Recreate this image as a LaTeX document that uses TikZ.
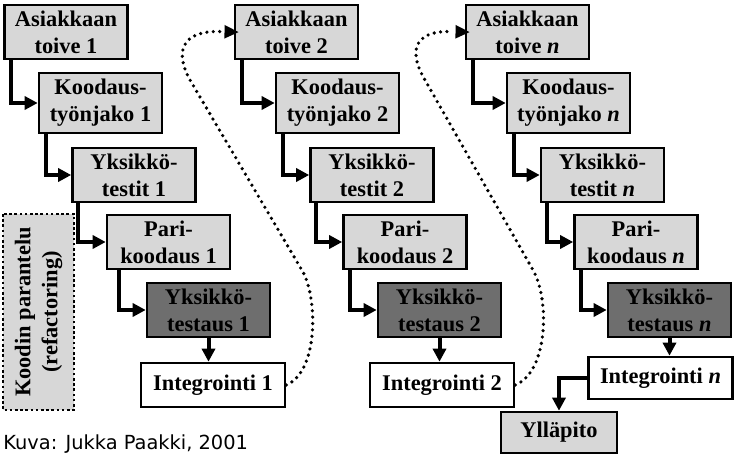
\documentclass[tikz,border=0pt]{standalone}
\usepackage{fontspec}
\setmainfont{Liberation Serif}
\newfontfamily\creditfont{DejaVu Sans}
\usepackage{xcolor}
\usetikzlibrary{arrows.meta,calc,decorations.markings}
\definecolor{stepgray}{RGB}{215,215,215}
\definecolor{testgray}{RGB}{110,110,110}

\begin{document}
\begin{tikzpicture}[x=0.5pt,y=-0.5pt,
  stepbox/.style={draw,line width=1.3pt,fill=stepgray,rectangle,inner sep=0pt,
    minimum width=61.5pt,minimum height=27pt,align=center,
    font=\fontsize{11.2}{13.5}\selectfont\bfseries},
  tallbox/.style={stepbox,minimum height=30pt},
  testbox/.style={stepbox,fill=testgray},
  intbox/.style={stepbox,fill=white,minimum width=72pt,minimum height=22pt},
  arrow/.style={-{Triangle[length=6.5pt,width=6.5pt]},line width=2pt},
  loopback/.style={line width=1.8pt,dash pattern=on 0pt off 3.2pt,line cap=round,
    shorten >=6pt,
    postaction={decorate},
    decoration={markings,mark=at position 0.995 with
      {\fill[solid] (3.5pt,0) -- (-3.5pt,3.4pt) -- (-3.5pt,-3.4pt) -- cycle;}}}
  ]
\useasboundingbox (0,0) rectangle (735,460);

% Iteration 1
\node[stepbox]  (A1) at (66,32)    {Asiakkaan\\toive 1};
\node[tallbox]  (K1) at (100.5,103) {Koodaus-\\työnjako 1};
\node[stepbox]  (Y1) at (134,175)  {Yksikkö-\\testit 1};
\node[stepbox]  (P1) at (168.5,242) {Pari-\\koodaus 1};
\node[testbox]  (T1) at (208.5,310) {Yksikkö-\\testaus 1};
\node[intbox]   (I1) at (213,385)  {Integrointi 1};

% Iteration 2
\node[stepbox]  (A2) at (296.5,32) {Asiakkaan\\toive 2};
\node[tallbox]  (K2) at (337.5,103) {Koodaus-\\työnjako 2};
\node[stepbox]  (Y2) at (372,175)  {Yksikkö-\\testit 2};
\node[stepbox]  (P2) at (405,242)  {Pari-\\koodaus 2};
\node[testbox]  (T2) at (439.5,310) {Yksikkö-\\testaus 2};
\node[intbox]   (I2) at (442,385)  {Integrointi 2};

% Iteration n
\node[stepbox]  (An) at (527.5,32) {Asiakkaan\\toive \textit{n}};
\node[tallbox]  (Kn) at (568.5,103) {Koodaus-\\työnjako \textit{n}};
\node[stepbox]  (Yn) at (602.5,175) {Yksikkö-\\testit \textit{n}};
\node[stepbox]  (Pn) at (636,242)  {Pari-\\koodaus \textit{n}};
\node[testbox]  (Tn) at (669.5,310) {Yksikkö-\\testaus \textit{n}};
\node[intbox,minimum height=21pt] (In) at (660.5,378) {Integrointi \textit{n}};
\node[stepbox,minimum width=58pt,minimum height=20.5pt] (Yl) at (559,432.5) {Ylläpito};

% Refactoring box on the left
\node[draw,line width=1.3pt,dash pattern=on 1.3pt off 1.3pt,fill=stepgray,
  rotate=90,minimum width=98pt,minimum height=35.5pt,inner sep=0pt,align=center,
  font=\fontsize{11.2}{13.5}\selectfont\bfseries] (ref) at (38.5,312)
  {Koodin parantelu\\(refactoring)};

% Credit
\node[anchor=base west,inner sep=0pt,font=\creditfont\fontsize{9.7}{12}\selectfont]
  (credit) at (3,450) {Kuva: Jukka Paakki, 2001};

% Steps inside each iteration
\draw[arrow] ($(A1.south west)+(8,0)$) |- (K1.west);
\draw[arrow] ($(K1.south west)+(8,0)$) |- (Y1.west);
\draw[arrow] ($(Y1.south west)+(7,0)$) |- (P1.west);
\draw[arrow] ($(P1.south west)+(13,0)$) |- (T1.west);
\draw[arrow] (T1.south) -- (T1.south |- I1.north);

\draw[arrow] ($(A2.south west)+(8,0)$) |- (K2.west);
\draw[arrow] ($(K2.south west)+(8,0)$) |- (Y2.west);
\draw[arrow] ($(Y2.south west)+(7,0)$) |- (P2.west);
\draw[arrow] ($(P2.south west)+(8,0)$) |- (T2.west);
\draw[arrow] (T2.south) -- (T2.south |- I2.north);

\draw[arrow] ($(An.south west)+(8,0)$) |- (Kn.west);
\draw[arrow] ($(Kn.south west)+(8,0)$) |- (Yn.west);
\draw[arrow] ($(Yn.south west)+(7,0)$) |- (Pn.west);
\draw[arrow] ($(Pn.south west)+(8,0)$) |- (Tn.west);
\draw[arrow] (Tn.south) -- (Tn.south |- In.north);
\draw[arrow] (In.west) -| (Yl.north);

% Next iteration loops
\draw[loopback] (I1.east) .. controls (318,372) and (318,300) .. (303,272)
  -- (190,80) .. controls (176,55) and (178,30) .. (A2.west);
\draw[loopback] (I2.east) .. controls (548,372) and (550,300) .. (533,270)
  -- (425,80) .. controls (410,55) and (410,30) .. (An.west);

\end{tikzpicture}
\end{document}
